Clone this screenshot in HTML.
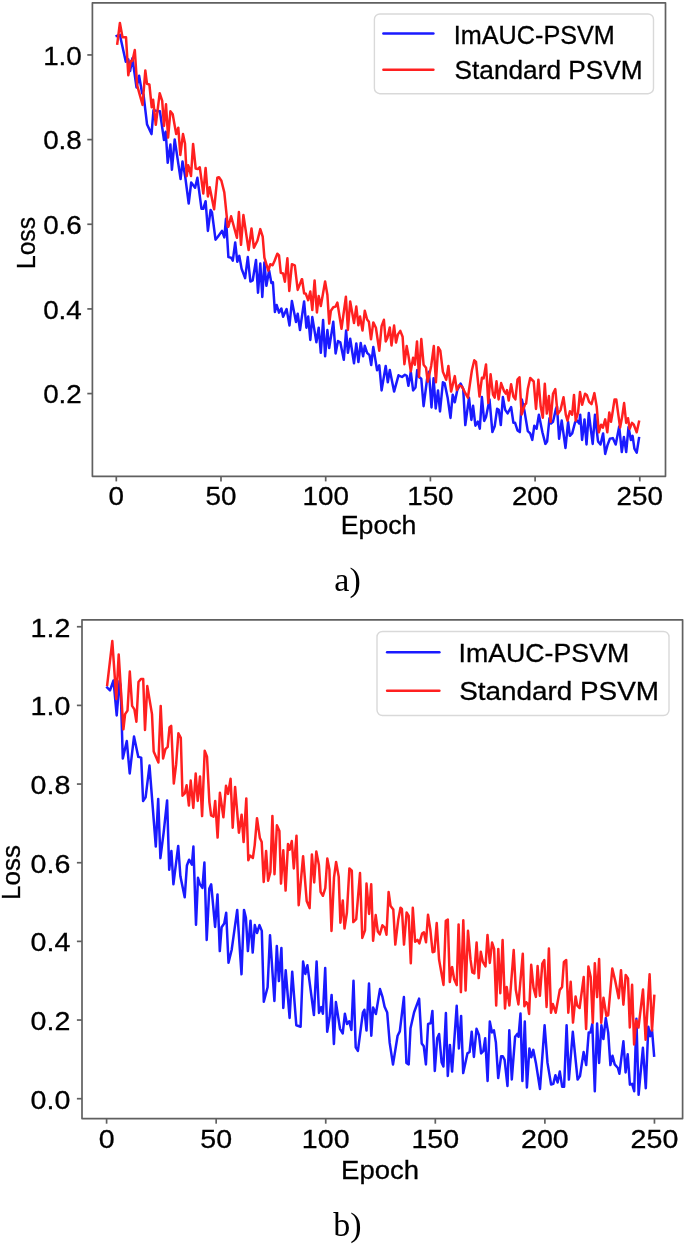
<!DOCTYPE html>
<html><head><meta charset="utf-8"><style>
html,body{margin:0;padding:0;background:#fff;}
svg{display:block;will-change:transform;}
text{fill:#000;stroke:#000;stroke-width:0.3px;}
</style></head><body>
<svg width="685" height="1244" viewBox="0 0 685 1244">
<rect width="685" height="1244" fill="#fff"/>
<clipPath id="ca"><rect x="92.4" y="2.8" width="573.1" height="473.5"/></clipPath>
<polyline clip-path="url(#ca)" points="116.7,36.0 119.9,34.9 125.8,61.7 128.3,59.4 130.1,71.1 132.4,58.2 136.5,87.4 139.1,75.7 142.1,93.2 143.5,94.4 147.0,124.2 151.5,134.1 153.5,110.2 155.8,110.8 159.9,111.3 164.0,140.0 165.7,131.8 167.7,162.7 170.4,144.6 171.9,169.7 174.7,139.4 180.6,179.1 182.5,161.4 185.3,177.4 188.7,203.5 191.2,182.5 195.1,187.7 197.4,177.8 201.5,208.8 203.3,208.8 205.6,201.2 207.9,230.9 210.6,209.9 212.0,212.3 215.5,239.7 217.9,236.8 222.0,230.9 224.3,237.4 226.0,218.7 228.4,257.1 231.1,257.7 232.8,260.6 235.2,242.5 237.3,261.8 239.3,255.9 241.6,268.8 245.1,278.1 247.8,257.1 250.4,281.6 252.7,280.4 256.0,260.0 258.0,292.7 260.3,263.5 262.3,296.9 264.4,262.4 266.4,285.8 269.1,270.6 271.4,282.9 272.9,282.3 274.9,312.0 276.7,305.0 279.0,312.6 281.4,308.5 283.1,316.7 286.6,309.1 289.5,325.5 291.9,300.9 296.0,322.0 297.7,313.8 300.0,330.0 304.1,301.4 306.4,327.7 308.2,316.6 310.3,339.9 312.3,317.1 316.4,342.3 318.7,327.7 320.8,352.8 323.1,320.1 325.1,356.3 327.4,330.0 329.2,348.1 333.3,321.8 335.6,353.4 338.0,341.1 340.3,342.3 343.8,359.8 346.1,330.6 347.9,352.8 350.2,338.8 354.0,363.3 356.3,343.4 358.4,362.1 360.7,342.9 363.1,356.3 364.8,345.8 367.1,352.8 369.5,355.1 371.2,365.0 373.3,346.9 377.1,370.3 379.3,365.3 381.6,390.4 385.7,365.9 387.8,382.3 389.8,370.0 394.1,391.6 398.5,375.3 402.0,377.0 404.9,374.7 406.7,375.8 408.4,385.8 410.8,371.8 413.1,390.4 415.5,387.5 417.2,370.0 419.0,377.0 421.3,378.8 423.6,406.2 427.1,378.8 428.9,371.8 431.5,407.4 433.6,378.2 435.7,408.5 438.0,390.4 440.0,411.5 442.9,382.3 444.7,383.4 447.6,397.4 450.5,417.9 452.7,394.7 454.8,402.3 457.3,390.1 460.6,383.6 463.2,388.9 465.3,425.1 469.0,397.7 471.4,419.9 473.1,405.8 475.4,425.7 477.8,421.6 479.8,428.6 481.9,397.1 484.2,421.0 486.0,416.9 489.5,399.4 492.4,432.1 494.7,426.3 497.1,408.8 498.8,409.9 500.8,425.1 502.9,397.1 505.2,409.9 507.6,413.4 511.1,407.0 513.4,422.8 515.1,422.8 517.5,430.4 519.8,432.1 521.8,399.4 524.5,411.1 527.8,431.1 530.2,433.4 532.3,439.9 534.3,425.8 536.6,428.8 538.9,414.7 542.4,432.3 545.4,443.9 547.1,441.6 549.5,418.2 551.0,423.5 553.0,421.8 555.9,408.9 557.0,406.6 559.1,438.7 561.7,420.6 565.5,448.0 568.1,421.8 569.9,435.8 572.2,433.4 575.1,422.3 577.1,420.6 579.2,423.5 580.2,414.7 582.1,439.9 584.5,419.4 586.5,444.5 588.8,413.0 590.9,429.9 592.7,443.9 595.0,414.7 597.9,440.4 598.2,441.6 600.5,444.5 603.1,433.4 605.2,453.9 607.5,445.1 609.9,438.7 612.8,438.1 615.7,444.5 619.2,426.4 621.8,452.1 623.9,436.9 626.2,452.1 628.5,427.0 630.9,439.9 632.6,435.8 634.4,448.6 636.7,452.7 639.0,438.1" fill="none" stroke="#1a1aff" stroke-width="2.5" stroke-linejoin="round" stroke-linecap="square"/>
<polyline clip-path="url(#ca)" points="117.3,43.6 119.9,22.9 122.5,37.2 126.0,37.2 128.3,75.2 130.7,61.1 132.4,61.1 134.8,50.0 137.1,85.1 140.0,95.6 142.6,104.9 145.3,70.5 147.0,83.9 149.4,84.5 151.7,107.3 153.1,99.7 155.8,124.8 159.7,93.2 162.2,100.8 164.0,126.0 166.0,104.3 168.1,137.6 170.4,111.3 172.7,114.3 176.2,134.1 178.3,127.7 180.3,155.0 183.0,134.1 185.0,143.5 186.7,176.2 188.2,165.3 189.3,168.5 191.0,176.1 193.1,143.9 195.7,168.5 197.8,169.1 199.8,167.3 203.3,193.6 205.6,167.9 207.9,196.5 209.7,187.2 214.1,209.3 217.3,177.8 219.0,177.2 221.4,180.7 224.3,192.4 227.8,226.9 228.4,226.7 231.1,216.2 236.9,237.8 238.9,212.1 241.0,244.8 243.4,215.0 248.6,250.1 251.5,228.5 253.9,247.7 257.4,240.7 260.3,229.1 262.7,236.7 264.4,257.7 268.3,270.6 270.3,264.2 272.6,265.3 274.4,261.2 277.3,253.7 279.0,255.4 280.8,272.9 283.1,273.5 284.9,281.7 287.4,258.3 289.3,291.0 291.9,264.2 294.8,265.3 297.7,289.9 301.8,279.3 302.1,279.2 304.1,293.2 305.8,293.8 308.2,300.2 310.3,291.5 312.3,310.1 314.6,280.4 316.9,312.5 318.7,296.1 320.8,306.1 325.1,281.5 327.4,295.0 329.2,323.6 330.9,310.7 333.3,307.2 335.6,306.6 337.4,302.6 341.5,328.8 345.9,296.7 347.9,330.0 350.2,301.4 354.0,323.0 356.3,306.6 358.4,325.3 360.1,316.6 362.5,330.6 364.8,310.7 367.1,319.5 368.9,321.8 371.0,339.3 373.3,322.4 375.9,327.7 379.3,350.7 381.6,326.2 383.9,319.8 385.7,341.4 387.4,337.9 389.8,327.4 391.5,345.5 394.1,325.6 396.0,342.6 397.9,334.4 400.3,330.9 402.6,336.7 404.4,364.2 406.7,346.1 408.4,355.4 410.8,371.2 413.1,357.7 414.9,364.7 417.0,341.4 419.0,377.0 421.3,339.1 423.6,364.7 426.0,367.7 427.7,381.7 431.2,365.9 433.8,346.1 435.9,382.3 438.2,347.2 440.3,350.7 442.9,371.8 446.2,379.9 448.4,365.9 451.1,391.6 454.8,376.1 456.8,390.1 459.1,385.4 462.0,386.6 464.9,392.4 467.9,397.7 471.9,370.2 474.3,360.3 476.0,362.0 479.5,396.5 481.9,377.8 483.6,378.4 486.0,364.4 488.3,402.9 490.6,374.3 493.0,394.7 494.7,397.7 496.5,381.3 498.6,399.4 501.1,383.1 504.1,391.2 505.8,393.6 507.0,390.1 508.7,400.6 511.1,384.2 513.4,396.5 515.4,399.4 517.5,379.6 519.5,377.2 521.6,414.6 525.1,404.1 526.1,403.6 527.8,389.1 530.2,378.0 533.7,381.5 536.0,408.9 538.4,379.7 540.7,406.6 542.8,417.7 544.8,383.8 546.8,413.6 548.9,396.1 550.6,421.8 553.0,393.7 555.3,389.1 557.6,414.2 560.5,410.1 563.5,397.2 565.8,414.7 567.5,420.6 569.9,411.2 572.2,414.7 574.0,394.9 575.7,420.6 578.1,412.4 580.0,392.0 582.1,404.8 585.1,393.7 586.8,394.9 589.1,401.9 591.5,404.2 594.4,393.1 596.7,406.6 598.8,432.3 601.1,424.7 602.9,427.6 605.2,419.4 607.3,432.3 609.3,412.4 611.0,421.8 612.2,414.7 614.5,399.6 616.3,399.6 618.0,412.4 620.1,427.6 622.1,417.1 624.1,403.1 626.2,422.9 628.0,418.2 629.7,428.8 632.0,422.9 633.8,424.7 636.7,432.3 639.0,421.8" fill="none" stroke="#ff2020" stroke-width="2.5" stroke-linejoin="round" stroke-linecap="square"/>
<rect x="92.4" y="2.8" width="573.1" height="473.5" fill="none" stroke="#606060" stroke-width="1.7" stroke-linejoin="round"/>
<line x1="116.30" y1="476.3" x2="116.30" y2="481.40000000000003" stroke="#606060" stroke-width="1.7"/>
<text x="116.30" y="504.6" font-size="25.2" font-family="Liberation Sans" text-anchor="middle" textLength="15.45" lengthAdjust="spacingAndGlyphs">0</text>
<line x1="221.00" y1="476.3" x2="221.00" y2="481.40000000000003" stroke="#606060" stroke-width="1.7"/>
<text x="221.00" y="504.6" font-size="25.2" font-family="Liberation Sans" text-anchor="middle" textLength="30.91" lengthAdjust="spacingAndGlyphs">50</text>
<line x1="325.70" y1="476.3" x2="325.70" y2="481.40000000000003" stroke="#606060" stroke-width="1.7"/>
<text x="325.70" y="504.6" font-size="25.2" font-family="Liberation Sans" text-anchor="middle" textLength="46.36" lengthAdjust="spacingAndGlyphs">100</text>
<line x1="430.40" y1="476.3" x2="430.40" y2="481.40000000000003" stroke="#606060" stroke-width="1.7"/>
<text x="430.40" y="504.6" font-size="25.2" font-family="Liberation Sans" text-anchor="middle" textLength="46.36" lengthAdjust="spacingAndGlyphs">150</text>
<line x1="535.10" y1="476.3" x2="535.10" y2="481.40000000000003" stroke="#606060" stroke-width="1.7"/>
<text x="535.10" y="504.6" font-size="25.2" font-family="Liberation Sans" text-anchor="middle" textLength="46.36" lengthAdjust="spacingAndGlyphs">200</text>
<line x1="639.80" y1="476.3" x2="639.80" y2="481.40000000000003" stroke="#606060" stroke-width="1.7"/>
<text x="639.80" y="504.6" font-size="25.2" font-family="Liberation Sans" text-anchor="middle" textLength="46.36" lengthAdjust="spacingAndGlyphs">250</text>
<line x1="87.30000000000001" y1="54.94" x2="92.4" y2="54.94" stroke="#606060" stroke-width="1.7"/>
<text x="81.8" y="64.54" font-size="25.2" font-family="Liberation Sans" text-anchor="end" textLength="38.64" lengthAdjust="spacingAndGlyphs">1.0</text>
<line x1="87.30000000000001" y1="139.60" x2="92.4" y2="139.60" stroke="#606060" stroke-width="1.7"/>
<text x="81.8" y="149.20" font-size="25.2" font-family="Liberation Sans" text-anchor="end" textLength="38.64" lengthAdjust="spacingAndGlyphs">0.8</text>
<line x1="87.30000000000001" y1="224.26" x2="92.4" y2="224.26" stroke="#606060" stroke-width="1.7"/>
<text x="81.8" y="233.86" font-size="25.2" font-family="Liberation Sans" text-anchor="end" textLength="38.64" lengthAdjust="spacingAndGlyphs">0.6</text>
<line x1="87.30000000000001" y1="308.92" x2="92.4" y2="308.92" stroke="#606060" stroke-width="1.7"/>
<text x="81.8" y="318.52" font-size="25.2" font-family="Liberation Sans" text-anchor="end" textLength="38.64" lengthAdjust="spacingAndGlyphs">0.4</text>
<line x1="87.30000000000001" y1="393.58" x2="92.4" y2="393.58" stroke="#606060" stroke-width="1.7"/>
<text x="81.8" y="403.18" font-size="25.2" font-family="Liberation Sans" text-anchor="end" textLength="38.64" lengthAdjust="spacingAndGlyphs">0.2</text>
<text x="340.8" y="534.2" font-size="25.2" font-family="Liberation Sans" textLength="75.6" lengthAdjust="spacingAndGlyphs">Epoch</text>
<text transform="translate(34.6,269) rotate(-90)" font-size="25.2" font-family="Liberation Sans" textLength="52" lengthAdjust="spacingAndGlyphs">Loss</text>
<text x="334.3" y="590.5" font-size="34" font-family="Liberation Serif" style="stroke:none">a)</text>
<rect x="374.4" y="14.0" width="279.1" height="79.7" rx="5.5" fill="#fff" fill-opacity="0.8" stroke="#d9d9d9" stroke-width="1.4"/>
<line x1="383.4" y1="33.5" x2="433.4" y2="33.5" stroke="#1a1aff" stroke-width="2.5" stroke-linecap="round"/>
<line x1="383.4" y1="69.8" x2="433.4" y2="69.8" stroke="#ff2020" stroke-width="2.5" stroke-linecap="round"/>
<text x="453.8" y="43.7" font-size="25.2" font-family="Liberation Sans" textLength="161" lengthAdjust="spacingAndGlyphs">ImAUC-PSVM</text>
<text x="454.6" y="78.7" font-size="25.2" font-family="Liberation Sans" textLength="188" lengthAdjust="spacingAndGlyphs">Standard PSVM</text>
<clipPath id="cb"><rect x="82" y="619.8" width="600.6" height="498.79999999999995"/></clipPath>
<polyline clip-path="url(#cb)" points="107.2,687.5 110.0,690.4 113.5,680.5 116.7,715.5 119.5,681.0 120.6,686.0 122.8,758.4 126.8,741.0 129.7,773.5 134.0,736.6 138.3,756.9 141.2,757.6 143.1,801.0 145.6,797.4 149.5,765.6 155.8,846.6 158.2,798.9 160.4,858.2 163.7,832.2 167.1,800.4 169.2,869.8 171.4,851.0 173.4,884.3 178.2,845.9 180.4,876.3 184.7,897.3 186.9,865.5 189.1,859.7 191.9,864.7 193.4,846.6 196.0,924.8 198.0,877.8 199.9,884.3 202.4,887.9 204.4,862.6 206.7,939.9 209.3,888.6 211.2,884.3 215.1,926.9 217.5,894.4 219.8,951.1 221.6,927.2 224.2,923.6 226.2,912.8 228.5,962.7 231.7,949.7 237.2,909.9 241.5,974.3 244.0,909.9 245.9,917.9 247.9,951.1 250.5,920.7 252.7,952.6 254.8,925.1 257.0,933.0 259.5,925.1 261.8,930.9 263.8,1001.7 267.6,987.3 270.0,935.2 274.4,1001.0 276.8,946.0 278.9,981.1 281.4,947.9 283.3,1007.9 285.7,970.3 289.6,1018.0 292.2,971.7 296.3,1025.2 300.6,1026.7 303.1,961.6 305.3,973.9 307.4,965.2 313.9,1015.1 316.6,961.6 319.0,1012.9 321.2,1007.1 322.9,1013.7 325.2,968.1 327.2,1031.7 329.6,1017.3 331.6,994.9 333.9,1044.0 335.9,1002.1 340.0,1028.8 342.7,1033.5 344.9,1013.7 347.0,1024.1 349.2,1021.2 351.4,1029.9 353.5,980.7 355.7,1047.3 357.9,1050.9 362.9,1012.6 364.4,1009.7 366.5,1030.6 369.0,983.6 371.3,1035.7 373.1,1007.5 375.9,1014.0 380.0,989.1 382.4,996.6 384.6,1006.8 387.2,1012.6 389.7,1042.9 393.0,1064.6 397.6,1035.7 399.8,1031.4 403.9,997.1 406.4,1062.9 408.7,1064.4 410.5,1028.2 414.1,1012.3 419.1,998.6 421.7,1043.4 423.8,1046.3 425.9,1064.4 428.1,1023.9 430.7,1023.2 432.4,1010.9 434.8,1070.9 437.2,1038.3 439.1,1034.0 441.6,1062.2 443.4,1066.5 445.9,1013.0 447.8,1076.0 449.9,1044.9 452.1,1071.6 456.7,1005.8 458.9,1048.5 461.1,1015.9 463.2,1073.1 467.4,1053.4 469.6,1052.0 471.7,1031.7 473.9,1057.0 476.5,1028.8 479.0,1035.3 481.1,1053.4 483.3,1051.2 485.2,1038.2 487.6,1080.9 489.8,1021.6 492.0,1032.4 493.9,1030.3 495.9,1042.6 498.2,1078.0 501.1,1056.3 502.8,1056.3 504.6,1059.9 507.5,1086.0 509.3,1030.3 511.8,1079.4 515.1,1036.8 517.3,1033.9 518.5,1036.8 520.5,1013.6 522.4,1080.9 524.8,1021.6 526.9,1087.5 529.4,1048.5 531.3,1057.2 533.3,1049.9 535.9,1062.9 540.0,1089.0 544.6,1025.3 547.5,1062.9 551.1,1084.6 553.3,1083.9 555.4,1075.2 557.6,1082.5 559.8,1071.6 562.2,1086.8 564.1,1086.8 566.6,1025.3 568.9,1079.6 572.8,1031.8 577.6,1079.6 580.0,1076.0 583.6,1052.1 586.2,1065.1 588.7,1032.6 590.4,1032.6 592.3,1023.9 594.8,1091.2 597.1,1023.6 599.1,1063.0 601.4,1025.3 603.4,1039.1 605.8,1018.1 608.2,1032.6 610.4,1065.1 612.5,1055.7 614.7,1064.4 617.9,1068.0 619.4,1073.8 623.4,1041.3 625.6,1072.4 627.7,1054.3 629.9,1084.7 632.1,1083.9 634.2,1091.2 636.4,1018.8 638.6,1094.8 642.9,1047.8 645.8,1088.3 648.3,1026.8 650.2,1036.2 652.0,1029.7 654.1,1055.7" fill="none" stroke="#1a1aff" stroke-width="2.5" stroke-linejoin="round" stroke-linecap="square"/>
<polyline clip-path="url(#cb)" points="107.2,684.9 112.3,641.1 116.3,698.9 118.7,654.5 123.4,729.3 125.1,714.1 127.5,710.6 129.8,671.5 132.1,705.9 134.4,709.4 136.4,721.7 138.5,682.0 140.9,679.0 143.2,679.0 145.0,729.9 147.3,686.1 152.0,714.1 153.7,751.5 158.4,762.5 160.7,705.9 163.1,758.5 165.4,749.1 167.7,746.8 169.5,727.5 171.2,725.8 173.8,783.5 176.1,764.7 178.4,733.2 180.8,737.9 182.5,795.7 184.8,793.4 186.6,785.2 188.9,805.6 190.7,780.5 193.3,808.0 195.7,773.5 197.7,801.0 200.0,776.4 202.1,816.1 204.7,750.7 207.0,756.6 209.4,802.1 211.1,815.5 213.5,816.7 215.2,801.0 217.6,837.6 219.9,792.8 223.4,817.3 226.0,785.8 228.1,793.9 230.6,778.8 232.7,827.8 235.1,786.9 238.9,832.7 241.6,814.7 243.6,842.1 246.3,798.4 248.3,860.3 250.0,855.6 252.9,857.9 254.7,845.1 257.0,818.2 259.9,838.1 261.7,842.1 263.7,881.9 266.1,850.9 268.1,880.7 270.4,871.9 272.4,815.9 274.5,874.3 276.9,825.2 279.4,831.1 281.0,883.6 283.3,850.3 285.6,890.6 288.0,843.9 289.7,849.7 291.8,841.0 293.8,868.4 296.5,835.7 298.7,905.2 303.1,856.2 306.7,901.1 309.6,908.1 311.9,854.4 314.2,882.4 316.3,851.5 318.9,864.9 320.6,891.8 322.9,895.8 325.3,888.2 327.3,858.5 329.4,869.6 331.5,930.9 334.0,877.7 336.1,862.0 338.7,876.6 340.4,922.7 342.8,900.5 344.5,928.5 346.9,912.8 349.4,868.4 351.8,870.7 353.3,922.1 356.2,919.2 360.0,873.1 362.3,937.9 365.0,930.3 366.5,883.6 369.1,913.9 371.2,884.2 373.1,940.8 375.7,915.1 377.8,931.5 379.8,934.4 382.4,925.3 384.8,927.7 386.5,934.7 388.6,892.0 390.6,906.1 393.3,909.6 395.3,944.6 398.2,920.1 400.5,907.8 401.9,909.0 404.0,944.6 406.6,912.5 408.7,916.0 410.8,963.3 412.8,907.8 415.1,941.7 417.5,939.9 419.4,943.4 422.1,933.5 423.9,932.3 426.0,942.3 428.0,914.8 430.3,929.4 432.6,952.2 434.4,951.6 436.7,923.0 439.1,959.8 443.5,984.9 445.8,920.7 447.8,919.5 449.8,982.0 451.9,967.4 452.1,967.0 454.2,979.3 456.7,985.1 458.6,924.4 460.9,992.1 463.3,920.3 465.6,990.4 468.0,930.8 470.5,959.4 472.3,972.3 474.3,973.4 476.6,942.5 478.7,978.1 480.8,951.8 482.8,961.8 485.5,966.4 487.5,934.9 489.8,962.9 492.1,942.5 494.1,948.9 496.2,1005.5 498.3,948.9 500.3,993.3 502.6,940.1 505.0,1008.5 506.7,986.9 509.4,1005.5 513.7,950.1 515.8,989.8 518.4,1004.4 522.8,953.7 524.4,1006.3 526.3,1002.2 527.7,1003.9 529.1,1013.9 531.2,964.8 533.5,987.6 535.9,996.9 537.6,966.0 539.9,995.8 542.3,963.6 544.3,960.1 546.6,1006.9 548.9,948.5 551.0,1012.7 552.8,1003.9 555.7,1012.7 559.8,989.9 562.1,987.0 563.9,961.9 566.2,960.1 568.3,1012.7 570.7,981.8 573.0,1022.6 575.6,996.4 577.3,1005.7 579.6,1008.0 583.7,977.1 586.1,1029.0 588.4,966.6 590.7,977.1 592.8,1022.8 594.8,963.2 597.1,997.1 599.1,959.1 601.2,1022.8 603.5,997.7 606.4,1015.8 608.2,1015.2 612.3,968.5 615.2,980.7 618.7,998.2 621.0,970.2 623.4,1004.7 625.7,974.9 628.0,978.4 629.8,1027.5 632.1,984.8 634.1,1044.4 636.2,1020.4 638.5,1027.5 643.0,989.5 645.6,1039.7 649.6,974.3 652.0,1030.4 654.3,995.9" fill="none" stroke="#ff2020" stroke-width="2.5" stroke-linejoin="round" stroke-linecap="square"/>
<rect x="82" y="619.8" width="600.6" height="498.79999999999995" fill="none" stroke="#606060" stroke-width="1.7" stroke-linejoin="round"/>
<line x1="106.60" y1="1118.6" x2="106.60" y2="1123.6999999999998" stroke="#606060" stroke-width="1.7"/>
<text x="106.60" y="1148.3" font-size="26.5" font-family="Liberation Sans" text-anchor="middle" textLength="15.90" lengthAdjust="spacingAndGlyphs">0</text>
<line x1="216.17" y1="1118.6" x2="216.17" y2="1123.6999999999998" stroke="#606060" stroke-width="1.7"/>
<text x="216.17" y="1148.3" font-size="26.5" font-family="Liberation Sans" text-anchor="middle" textLength="31.80" lengthAdjust="spacingAndGlyphs">50</text>
<line x1="325.74" y1="1118.6" x2="325.74" y2="1123.6999999999998" stroke="#606060" stroke-width="1.7"/>
<text x="325.74" y="1148.3" font-size="26.5" font-family="Liberation Sans" text-anchor="middle" textLength="47.70" lengthAdjust="spacingAndGlyphs">100</text>
<line x1="435.31" y1="1118.6" x2="435.31" y2="1123.6999999999998" stroke="#606060" stroke-width="1.7"/>
<text x="435.31" y="1148.3" font-size="26.5" font-family="Liberation Sans" text-anchor="middle" textLength="47.70" lengthAdjust="spacingAndGlyphs">150</text>
<line x1="544.88" y1="1118.6" x2="544.88" y2="1123.6999999999998" stroke="#606060" stroke-width="1.7"/>
<text x="544.88" y="1148.3" font-size="26.5" font-family="Liberation Sans" text-anchor="middle" textLength="47.70" lengthAdjust="spacingAndGlyphs">200</text>
<line x1="654.45" y1="1118.6" x2="654.45" y2="1123.6999999999998" stroke="#606060" stroke-width="1.7"/>
<text x="654.45" y="1148.3" font-size="26.5" font-family="Liberation Sans" text-anchor="middle" textLength="47.70" lengthAdjust="spacingAndGlyphs">250</text>
<line x1="76.9" y1="626.74" x2="82" y2="626.74" stroke="#606060" stroke-width="1.7"/>
<text x="70.3" y="636.74" font-size="26.5" font-family="Liberation Sans" text-anchor="end" textLength="39.75" lengthAdjust="spacingAndGlyphs">1.2</text>
<line x1="76.9" y1="705.40" x2="82" y2="705.40" stroke="#606060" stroke-width="1.7"/>
<text x="70.3" y="715.40" font-size="26.5" font-family="Liberation Sans" text-anchor="end" textLength="39.75" lengthAdjust="spacingAndGlyphs">1.0</text>
<line x1="76.9" y1="784.06" x2="82" y2="784.06" stroke="#606060" stroke-width="1.7"/>
<text x="70.3" y="794.06" font-size="26.5" font-family="Liberation Sans" text-anchor="end" textLength="39.75" lengthAdjust="spacingAndGlyphs">0.8</text>
<line x1="76.9" y1="862.72" x2="82" y2="862.72" stroke="#606060" stroke-width="1.7"/>
<text x="70.3" y="872.72" font-size="26.5" font-family="Liberation Sans" text-anchor="end" textLength="39.75" lengthAdjust="spacingAndGlyphs">0.6</text>
<line x1="76.9" y1="941.38" x2="82" y2="941.38" stroke="#606060" stroke-width="1.7"/>
<text x="70.3" y="951.38" font-size="26.5" font-family="Liberation Sans" text-anchor="end" textLength="39.75" lengthAdjust="spacingAndGlyphs">0.4</text>
<line x1="76.9" y1="1020.04" x2="82" y2="1020.04" stroke="#606060" stroke-width="1.7"/>
<text x="70.3" y="1030.04" font-size="26.5" font-family="Liberation Sans" text-anchor="end" textLength="39.75" lengthAdjust="spacingAndGlyphs">0.2</text>
<line x1="76.9" y1="1098.70" x2="82" y2="1098.70" stroke="#606060" stroke-width="1.7"/>
<text x="70.3" y="1108.70" font-size="26.5" font-family="Liberation Sans" text-anchor="end" textLength="39.75" lengthAdjust="spacingAndGlyphs">0.0</text>
<text x="341.1" y="1178.9" font-size="26.5" font-family="Liberation Sans" textLength="78" lengthAdjust="spacingAndGlyphs">Epoch</text>
<text transform="translate(20.1,900) rotate(-90)" font-size="26.5" font-family="Liberation Sans" textLength="55" lengthAdjust="spacingAndGlyphs">Loss</text>
<text x="333.3" y="1235.5" font-size="34" font-family="Liberation Serif" style="stroke:none">b)</text>
<rect x="377.0" y="631.5" width="292.0" height="84.0" rx="5.5" fill="#fff" fill-opacity="0.8" stroke="#d9d9d9" stroke-width="1.4"/>
<line x1="387.1" y1="652.3" x2="439.4" y2="652.3" stroke="#1a1aff" stroke-width="2.5" stroke-linecap="round"/>
<line x1="387.1" y1="690.7" x2="439.4" y2="690.7" stroke="#ff2020" stroke-width="2.5" stroke-linecap="round"/>
<text x="458.6" y="662.4" font-size="26.5" font-family="Liberation Sans" textLength="170.6" lengthAdjust="spacingAndGlyphs">ImAUC-PSVM</text>
<text x="459.2" y="699.6" font-size="26.5" font-family="Liberation Sans" textLength="199.8" lengthAdjust="spacingAndGlyphs">Standard PSVM</text>
</svg></body></html>
